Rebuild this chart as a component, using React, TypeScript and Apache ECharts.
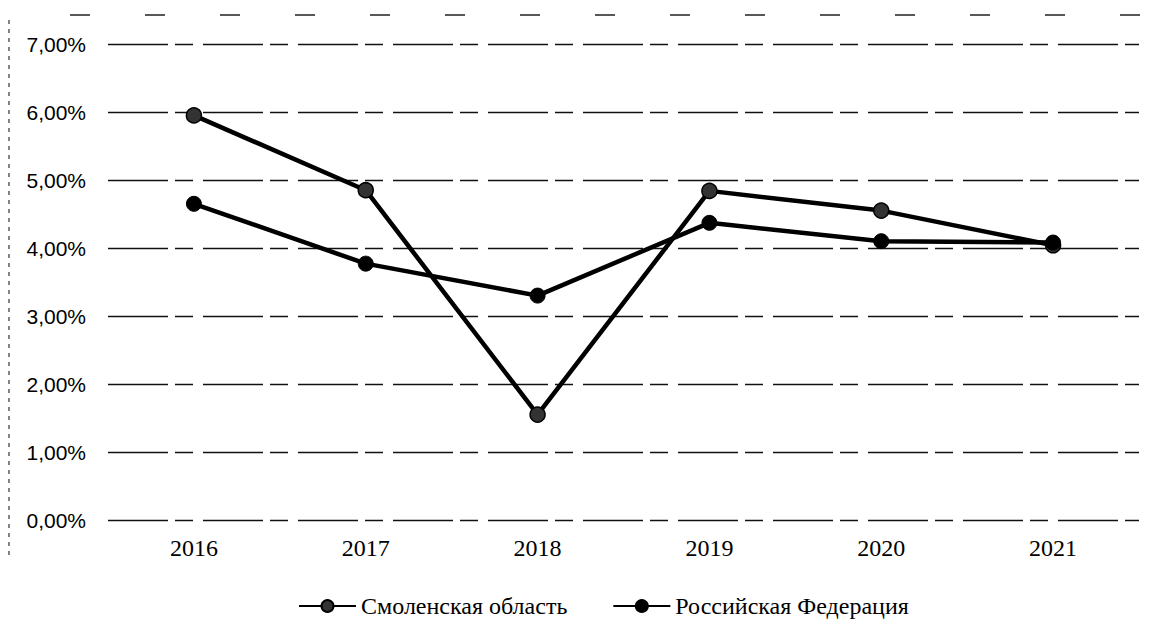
import React, { useEffect, useRef } from "react";
import * as echarts from "echarts";

const years = ["2016", "2017", "2018", "2019", "2020", "2021"];
const smolensk = [5.95, 4.85, 1.55, 4.84, 4.55, 4.04];
const russia = [4.65, 3.77, 3.3, 4.37, 4.1, 4.08];
const seriesNames = ["Смоленская область", "Российская Федерация"];
const yTicks = [0, 1, 2, 3, 4, 5, 6, 7];

export default function App() {
  const ref = useRef<HTMLDivElement>(null);
  useEffect(() => {
    if (!ref.current) return;
    const chart = echarts.init(ref.current, null, { renderer: "svg" });
    const fmt = (v: number) => v.toFixed(2).replace(".", ",") + "%";
    chart.setOption({
      animation: false,
      backgroundColor: "#ffffff",
      grid: { left: 108, right: 16, top: 44, bottom: 106, containLabel: false },
      xAxis: {
        type: "category",
        data: years,
        boundaryGap: true,
        axisLine: { show: false },
        axisTick: { show: false },
        axisLabel: {
          margin: 16,
          color: "#000",
          fontFamily: "Liberation Serif",
          fontSize: 24,
        },
        splitLine: { show: false },
      },
      yAxis: {
        type: "value",
        min: yTicks[0],
        max: yTicks[yTicks.length - 1],
        interval: 1,
        axisLine: { show: false },
        axisTick: { show: false },
        axisLabel: {
          margin: 22,
          color: "#000",
          fontFamily: "Liberation Sans",
          fontSize: 21,
          formatter: (v: number) => fmt(v),
        },
        splitLine: {
          show: true,
          lineStyle: { color: "#111", width: 1.4, type: [60, 7, 18, 10] },
        },
      },
      legend: {
        left: 293,
        top: 589,
        itemWidth: 57,
        itemHeight: 15,
        itemGap: 45,
        textStyle: { color: "#000", fontFamily: "Liberation Serif", fontSize: 24 },
        data: seriesNames,
      },
      series: [
        {
          name: seriesNames[0],
          type: "line",
          data: smolensk,
          symbol: "circle",
          symbolSize: 15,
          lineStyle: { color: "#000", width: 4.5 },
          itemStyle: { color: "#333", borderColor: "#000", borderWidth: 1.5 },
        },
        {
          name: seriesNames[1],
          type: "line",
          data: russia,
          symbol: "circle",
          symbolSize: 15,
          lineStyle: { color: "#000", width: 4.5 },
          itemStyle: { color: "#000", borderColor: "#000", borderWidth: 1 },
        },
      ],
      graphic: [
        {
          type: "line",
          shape: { x1: 9, y1: 20, x2: 9, y2: 560 },
          style: { stroke: "#333", lineWidth: 1.2, lineDash: [4, 5] },
        },
        {
          type: "line",
          shape: { x1: 70, y1: 15, x2: 1140, y2: 15 },
          style: { stroke: "#222", lineWidth: 1.5, lineDash: [20, 55] },
        },
      ],
    });
    return () => chart.dispose();
  }, []);
  return (
    <div
      ref={ref}
      style={{ position: "fixed", left: 0, top: 0, width: 1155, height: 626, background: "#fff" }}
    />
  );
}
